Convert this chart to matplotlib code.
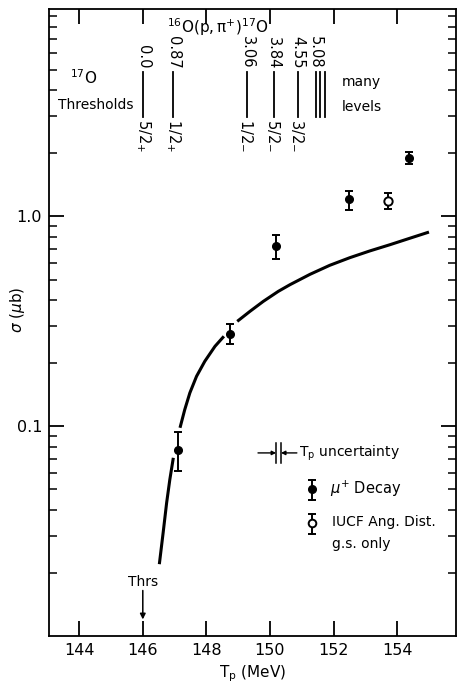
import matplotlib
matplotlib.use("Agg")
import matplotlib.pyplot as plt
from matplotlib.ticker import NullFormatter, LogLocator

# mu+ decay points (filled)
tp_decay = [147.10, 148.75, 150.18, 152.47, 154.36]
sig_decay = [0.077, 0.275, 0.72, 1.205, 1.89]
err_lo_decay = [0.016, 0.029, 0.093, 0.129, 0.12]
err_hi_decay = [0.017, 0.032, 0.098, 0.115, 0.13]

# IUCF angular distribution, g.s. only (open)
tp_iucf = [153.70]
sig_iucf = [1.19]
err_lo_iucf = [0.106]
err_hi_iucf = [0.10]

# theory curve
tp_curve = [146.52, 146.64, 146.75, 146.85, 146.96, 147.17, 147.32, 147.48,
            147.69, 147.95, 148.27, 148.55, 148.97, 149.37, 149.79, 150.26,
            150.63, 151.26, 151.88, 152.51, 153.14, 153.77, 154.40, 155.00]
sig_curve = [0.0220, 0.0311, 0.0432, 0.0557, 0.0707, 0.0983, 0.1201, 0.1442,
             0.1730, 0.2040, 0.2404, 0.2683, 0.3162, 0.3529, 0.3938, 0.4394,
             0.4730, 0.5300, 0.5850, 0.6360, 0.6850, 0.7332, 0.7875, 0.8426]
# the curve is broken where it passes the first two points
curve_pieces = [(0, 5), (5, 12), (12, 24)]

# 17O level thresholds
thr_tp = [146.02, 146.95, 149.28, 150.12, 150.87]
thr_energy = ["0.0", "0.87", "3.06", "3.84", "4.55"]
thr_spin = [r"$\mathregular{5/2_{+}}$", r"$\mathregular{1/2_{+}}$",
            r"$\mathregular{1/2_{-}}$", r"$\mathregular{5/2_{-}}$",
            r"$\mathregular{3/2_{-}}$"]
many_tp = [151.44, 151.57, 151.73]

xticks = [144, 146, 148, 150, 152, 154]

fig = plt.figure(figsize=(4.57, 6.86), dpi=100)
ax = fig.add_axes([49 / 457, 50 / 686, 407 / 457, 627 / 686])

ax.set_yscale("log")
ax.set_xlim(143.05, 155.85)
ax.set_ylim(0.01, 9.75)

for s in ax.spines.values():
    s.set_linewidth(1.3)

ax.set_xticks(xticks)
ax.set_xticklabels([str(t) for t in xticks], fontsize=11.5)
ax.set_yticks([0.1, 1.0])
ax.set_yticklabels(["0.1", "1.0"], fontsize=11.5)
ax.yaxis.set_minor_locator(LogLocator(base=10, subs=range(2, 10)))
ax.yaxis.set_minor_formatter(NullFormatter())
ax.tick_params(which="major", direction="in", length=11, width=1.3,
               top=True, right=True, pad=5)
ax.tick_params(axis="y", which="minor", direction="in", length=6, width=1.1,
               right=True)

# curve
for a, b in curve_pieces:
    ax.plot(tp_curve[a:b], sig_curve[a:b], color="black", lw=2.2, zorder=2,
            solid_capstyle="butt", solid_joinstyle="round")

# data
ax.errorbar(tp_decay, sig_decay, yerr=[err_lo_decay, err_hi_decay], fmt="o",
            color="black", ms=5.5, capsize=3, elinewidth=1.4, capthick=1.4,
            zorder=3)
ax.errorbar(tp_iucf, sig_iucf, yerr=[err_lo_iucf, err_hi_iucf], fmt="o",
            color="black", mfc="white", mew=1.4, ms=6, capsize=3,
            elinewidth=1.4, capthick=1.4, zorder=3)

# threshold markers
for x, e, s in zip(thr_tp, thr_energy, thr_spin):
    ax.plot([x, x], [2.98, 4.89], color="black", lw=1.3)
    ax.text(x, 5.05, e, rotation=270, ha="center", va="bottom", fontsize=10.5)
    ax.text(x, 2.9, s, rotation=270, ha="center", va="top", fontsize=10.5)
for x in many_tp:
    ax.plot([x, x], [2.98, 4.89], color="black", lw=1.3)
ax.text(many_tp[0], 5.05, "5.08", rotation=270, ha="center", va="bottom",
        fontsize=10.5)

ax.text(0.414, 0.971, r"$\mathregular{^{16}O(p,\pi^{+})^{17}O}$",
        transform=ax.transAxes, ha="center", va="center", fontsize=11)
ax.text(0.086, 0.89, r"$\mathregular{^{17}O}$", transform=ax.transAxes,
        ha="center", va="center", fontsize=11)
ax.text(0.022, 0.847, "Thresholds", transform=ax.transAxes, ha="left",
        va="center", fontsize=10)
ax.text(0.72, 0.884, "many", transform=ax.transAxes, ha="left", va="center",
        fontsize=10)
ax.text(0.72, 0.844, "levels", transform=ax.transAxes, ha="left", va="center",
        fontsize=10)

# threshold arrow
ax.text(146.0, 0.0866, "Thrs", transform=ax.get_xaxis_transform(),
        ha="center", va="center", fontsize=10)
ax.annotate("", xy=(146.0, 0.022), xytext=(146.0, 0.077),
            xycoords=("data", "axes fraction"),
            textcoords=("data", "axes fraction"),
            arrowprops=dict(arrowstyle="-|>", color="black", lw=1.1,
                            mutation_scale=8))

# key: Tp uncertainty
ya = 0.292
for xb in [0.558, 0.570]:
    ax.plot([xb, xb], [0.276, 0.308], color="black", lw=1.1,
            transform=ax.transAxes)
ax.annotate("", xy=(0.558, ya), xytext=(0.5135, ya), xycoords="axes fraction",
            arrowprops=dict(arrowstyle="-|>", color="black", lw=1.0,
                            mutation_scale=6, shrinkA=0, shrinkB=0))
ax.annotate("", xy=(0.570, ya), xytext=(0.609, ya), xycoords="axes fraction",
            arrowprops=dict(arrowstyle="-|>", color="black", lw=1.0,
                            mutation_scale=6, shrinkA=0, shrinkB=0))
ax.text(0.614, ya, r"T$_\mathregular{p}$ uncertainty",
        transform=ax.transAxes, ha="left", va="center", fontsize=10)

# key: markers
xk = 0.647
ax.plot([xk, xk], [0.217, 0.249], color="black", lw=1.4, transform=ax.transAxes)
ax.plot([xk, xk], [0.217, 0.249], ls="none", marker="_", ms=6, mew=1.4,
        color="black", transform=ax.transAxes)
ax.plot([xk], [0.2344], marker="o", ms=5.5, color="black",
        transform=ax.transAxes)
ax.text(0.69, 0.2344, r"$\mu^{+}$ Decay", transform=ax.transAxes, ha="left",
        va="center", fontsize=10.5)

ax.plot([xk, xk], [0.163, 0.195], color="black", lw=1.4, transform=ax.transAxes)
ax.plot([xk, xk], [0.163, 0.195], ls="none", marker="_", ms=6, mew=1.4,
        color="black", transform=ax.transAxes)
ax.plot([xk], [0.18], marker="o", ms=5.5, color="black", mfc="white", mew=1.4,
        transform=ax.transAxes, zorder=4)
ax.text(0.695, 0.182, "IUCF Ang. Dist.", transform=ax.transAxes, ha="left",
        va="center", fontsize=10)
ax.text(0.695, 0.147, "g.s. only", transform=ax.transAxes, ha="left",
        va="center", fontsize=10)

ax.set_xlabel(r"T$_\mathregular{p}$ (MeV)", fontsize=11, labelpad=4)
fig.text(0.039, 0.548, r"$\sigma$ ($\mu$b)", rotation=90, ha="center",
         va="center", fontsize=11)

fig.savefig("out.png", dpi=100)
